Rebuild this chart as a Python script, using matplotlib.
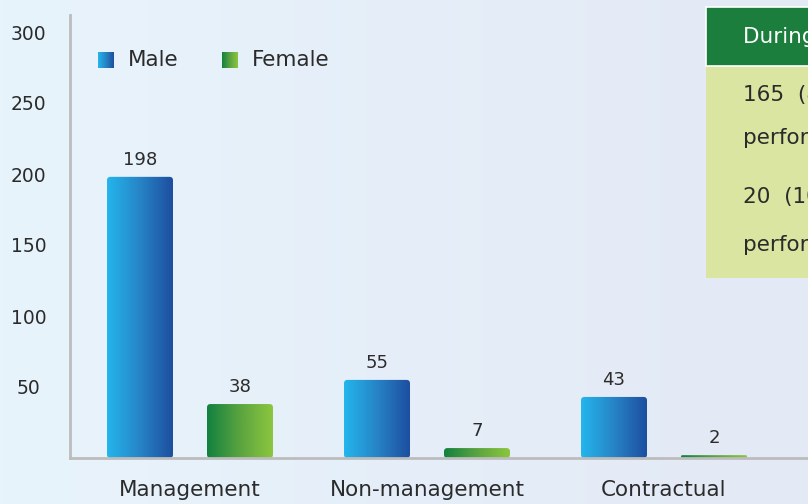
import numpy as np
import matplotlib
matplotlib.use("Agg")
import matplotlib.pyplot as plt
from matplotlib.colors import LinearSegmentedColormap
from matplotlib.patches import FancyBboxPatch, Rectangle

# data
categories = ["Management", "Non-management", "Contractual"]
male = [198, 55, 43]
female = [38, 7, 2]
y_ticks = [50, 100, 150, 200, 250, 300]
legend_labels = ["Male", "Female"]
box_title = "During the year"
box_lines = ["165  (83%)  employees  received", "performance reviews",
             "20  (10%)  employees  received", "performance reviews"]

plt.rcParams['font.family'] = ['DejaVu Sans']
TXT = '#2b2b2b'

male_cmap = LinearSegmentedColormap.from_list('m', ['#23b6ec', '#2784c6', '#1d4e9f'])
female_cmap = LinearSegmentedColormap.from_list('f', ['#128140', '#5aa43f', '#8cc63f'])

fig = plt.figure(figsize=(8.08, 5.04), dpi=100)

# background gradient
bg = fig.add_axes([0, 0, 1, 1], zorder=-10)
bg_cmap = LinearSegmentedColormap.from_list('bg', ['#e8f4fc', '#e3e9f5'])
gx = np.linspace(0, 1, 256)[None, :]
bg.imshow(gx, cmap=bg_cmap, aspect='auto', extent=[0, 1, 0, 1])
bg.axis('off')

W, H = 808, 504
ax_left, ax_right, ax_bottom, ax_top = 70, 808, 458, 15
ax = fig.add_axes([ax_left / W, (H - ax_bottom) / H,
                   (ax_right - ax_left) / W, (ax_bottom - ax_top) / H])
ax.patch.set_alpha(0)

px_per_x = 237.0
x0_px = 190.0
xmin = (ax_left - x0_px) / px_per_x
xmax = (ax_right - x0_px) / px_per_x
px_per_y = 1.42
ymax = (ax_bottom - ax_top) / px_per_y
ax.set_xlim(xmin, xmax)
ax.set_ylim(0, ymax)

bar_w = 66 / px_per_x
offset = 50 / px_per_x
x = np.arange(len(categories))

def grad_bar(xc, h, cmap):
    left = xc - bar_w / 2
    r_px = min(3.5, h * px_per_y / 2)
    aspect = px_per_x / px_per_y
    patch = FancyBboxPatch((left, 0), bar_w, h,
                           boxstyle=f"round,pad=0,rounding_size={r_px / px_per_x}",
                           mutation_aspect=aspect, facecolor='none',
                           edgecolor='none')
    ax.add_patch(patch)
    im = ax.imshow(gx, cmap=cmap, aspect='auto',
                   extent=[left, left + bar_w, 0, h], zorder=2)
    im.set_clip_path(patch)
    ax.annotate(str(h), (xc, h), xytext=(0, 6), textcoords='offset points',
                ha='center', va='bottom', fontsize=13, color=TXT)

for i in range(len(categories)):
    grad_bar(x[i] - offset, male[i], male_cmap)
    grad_bar(x[i] + offset, female[i], female_cmap)

ax.set_xlim(xmin, xmax)
ax.set_ylim(0, ymax)

for s in ['top', 'right']:
    ax.spines[s].set_visible(False)
for s in ['left', 'bottom']:
    ax.spines[s].set_color('#bcbcbc')
    ax.spines[s].set_linewidth(2)

ax.set_yticks(y_ticks)
ax.set_yticklabels([str(t) for t in y_ticks], fontsize=13.5, color=TXT)
ax.tick_params(axis='y', length=0, pad=30)
for lbl in ax.get_yticklabels():
    lbl.set_horizontalalignment('center')
ax.set_xticks(x)
ax.set_xticklabels(categories, fontsize=15.5, color=TXT)
ax.tick_params(axis='x', length=0, pad=16)

# legend swatches
def swatch(xp, yp, cmap):
    sa = fig.add_axes([xp / W, (H - yp - 16) / H, 16 / W, 16 / H])
    sa.imshow(gx, cmap=cmap, aspect='auto')
    sa.axis('off')

swatch(98, 52, male_cmap)
swatch(222, 52, female_cmap)
fig.text(128 / W, 1 - 60 / H, legend_labels[0], fontsize=15.5, color=TXT, va='center')
fig.text(252 / W, 1 - 60 / H, legend_labels[1], fontsize=15.5, color=TXT, va='center')

# info box (clipped at the right edge, as in the source)
fig.patches.append(Rectangle((706 / W, 1 - 278 / H), 0.2, (278 - 66) / H,
                             transform=fig.transFigure, facecolor='#d9e5a1',
                             edgecolor='none', zorder=1))
fig.patches.append(Rectangle((706 / W, 1 - 66 / H), 0.2, (66 - 7) / H,
                             transform=fig.transFigure, facecolor='#1b7e3d',
                             edgecolor='white', linewidth=1.2, zorder=1))
fig.text(743 / W, 1 - 37 / H, box_title, fontsize=15.5, color='white', va='center')
for yy, line in zip([95, 138, 197, 245], box_lines):
    fig.text(743 / W, 1 - yy / H, line, fontsize=15.5, color=TXT, va='center')

fig.savefig('out.png', dpi=100)
